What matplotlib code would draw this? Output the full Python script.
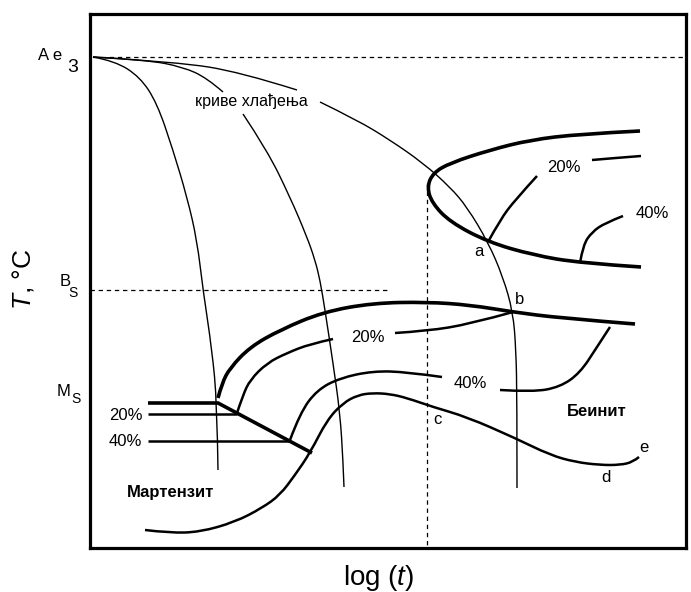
import matplotlib
matplotlib.use("Agg")
import matplotlib.pyplot as plt
from matplotlib.path import Path
from matplotlib.patches import PathPatch

plt.rcParams["font.family"] = ["Liberation Sans", "DejaVu Sans"]
plt.rcParams["mathtext.fontset"] = "custom"
plt.rcParams["mathtext.rm"] = "Liberation Sans"
plt.rcParams["mathtext.it"] = "Liberation Sans:italic"

# schematic CCT diagram, curves given as (x, y) points in drawing units
cool_fast = [(93, 57), (115, 61), (140, 77), (157, 103), (173, 150), (187, 197),
             (197, 240), (203, 290), (212, 350), (217, 403), (218, 470)]
cool_mid_a = [(93, 57), (147, 60), (183, 67), (207, 78), (223, 92)]
cool_mid_b = [(243, 114), (267, 150), (290, 197), (307, 237), (315, 260), (320, 280),
              (325, 310), (333, 363), (340, 413), (343, 460), (344, 487)]
cool_slow_a = [(93, 57), (177, 62), (240, 72), (297, 90)]
cool_slow_b = [(320, 102), (357, 120), (390, 140), (423, 163), (450, 187), (467, 207),
               (488, 242), (503, 277), (513, 312), (516, 350), (517, 400), (517, 488)]

ferrite_start = [(640, 131), (580, 134), (530, 140), (490, 150), (450, 163), (433, 173),
                 (427, 187), (432, 203), (450, 222), (488, 242), (533, 255), (580, 263),
                 (641, 267)]
ferrite_20a = [(488, 242), (500, 220), (515, 200), (537, 176)]
ferrite_20b = [(592, 160), (615, 158), (641, 156)]
ferrite_40 = [(580, 263), (583, 245), (592, 232), (605, 223), (623, 216)]

bainite_start = [(218, 398), (222, 383), (230, 368), (250, 347), (280, 330), (323, 312),
                 (373, 303), (427, 302), (470, 305), (513, 312), (560, 318), (635, 324)]
bainite_20a = [(237, 413), (243, 395), (250, 380), (267, 363), (287, 353), (310, 344),
               (333, 339)]
bainite_20b = [(395, 333), (427, 331), (470, 324), (513, 312)]
bainite_40a = [(290, 440), (300, 413), (317, 390), (340, 378), (373, 371), (407, 372),
               (442, 377)]
bainite_40b = [(500, 390), (533, 392), (560, 387), (580, 373), (597, 347), (610, 327)]
bainite_end = [(145, 530), (170, 533), (200, 532), (235, 522), (262, 508), (280, 495),
               (295, 475), (310, 453), (327, 420), (343, 403), (358, 395), (373, 393),
               (390, 394), (407, 398), (433, 407), (467, 417), (515, 438), (550, 455),
               (575, 462), (600, 465), (620, 465), (633, 462), (639, 457)]

mart_start = [(148, 403), (218, 403), (312, 453)]
mart_20 = [(148, 414), (237, 414)]
mart_40 = [(148, 441), (290, 441)]

ae3_y, bs_y, c_x = 57, 290, 427

fig = plt.figure(figsize=(6.91, 5.92), dpi=100)
ax = fig.add_axes([90 / 691, 44 / 592, 596 / 691, 534 / 592])
ax.set_xlim(90, 686)
ax.set_ylim(548, 14)
ax.set_xticks([])
ax.set_yticks([])
for s in ax.spines.values():
    s.set_linewidth(2.3)


def smooth(pts, lw):
    # quadratic bezier through the midpoints, interior points act as controls
    if len(pts) < 3:
        verts, codes = list(pts), [Path.MOVETO, Path.LINETO]
    else:
        verts, codes = [pts[0]], [Path.MOVETO]
        for i in range(1, len(pts) - 1):
            end = pts[i + 1] if i == len(pts) - 2 else \
                ((pts[i][0] + pts[i + 1][0]) / 2, (pts[i][1] + pts[i + 1][1]) / 2)
            verts += [pts[i], end]
            codes += [Path.CURVE3, Path.CURVE3]
    ax.add_patch(PathPatch(Path(verts, codes), fill=False, edgecolor="black",
                           lw=lw, capstyle="butt", joinstyle="round"))


def straight(pts, lw):
    xs, ys = zip(*pts)
    ax.plot(xs, ys, color="black", lw=lw, solid_capstyle="butt",
            solid_joinstyle="miter")


for c in (cool_fast, cool_mid_a, cool_mid_b, cool_slow_a, cool_slow_b):
    smooth(c, 1.0)
for c in (ferrite_start, bainite_start):
    smooth(c, 2.6)
straight(mart_start, 2.6)
for c in (ferrite_20a, ferrite_20b, ferrite_40, bainite_20a, bainite_20b,
          bainite_40a, bainite_40b, bainite_end):
    smooth(c, 1.8)
for c in (mart_20, mart_40):
    straight(c, 1.8)

dash = dict(color="black", lw=0.9, dashes=(3.5, 3))
ax.plot([93, 686], [ae3_y, ae3_y], **dash)
ax.plot([90, 387], [bs_y, bs_y], **dash)
ax.plot([c_x, c_x], [183, 548], **dash)

# temperature markers on the left
ax.text(62, 55, "A e", ha="right", va="center", fontsize=12)
ax.text(67, 68, "3", ha="left", va="center", fontsize=14)
ax.text(71, 282, "B", ha="right", va="center", fontsize=12)
ax.text(68, 293, "S", ha="left", va="center", fontsize=10)
ax.text(71, 392, "M", ha="right", va="center", fontsize=12)
ax.text(71, 399, "S", ha="left", va="center", fontsize=10)
ax.text(143, 416, "20%", ha="right", va="center", fontsize=12)
ax.text(142, 441, "40%", ha="right", va="center", fontsize=12)

ax.text(251, 101, "криве хлађења", ha="center", va="center", fontsize=11.5)
ax.text(564, 168, "20%", ha="center", va="center", fontsize=12)
ax.text(652, 213, "40%", ha="center", va="center", fontsize=12)
ax.text(368, 337, "20%", ha="center", va="center", fontsize=12)
ax.text(470, 383, "40%", ha="center", va="center", fontsize=12)
ax.text(171, 492, "Мартензит", ha="center", va="center", fontsize=12, fontweight="bold")
ax.text(597, 412, "Беинит", ha="center", va="center", fontsize=12, fontweight="bold")

for lbl, x, y in (("a", 479, 251), ("b", 520, 300), ("c", 437, 420),
                  ("d", 606, 478), ("e", 644, 447)):
    ax.text(x, y, lbl, ha="center", va="center", fontsize=12)

ax.text(23, 279, "$T$, °C", rotation=90, ha="center", va="center", fontsize=19)
ax.text(379, 578, "log ($t$)", ha="center", va="center", fontsize=20)

fig.savefig("out.png", dpi=100)
